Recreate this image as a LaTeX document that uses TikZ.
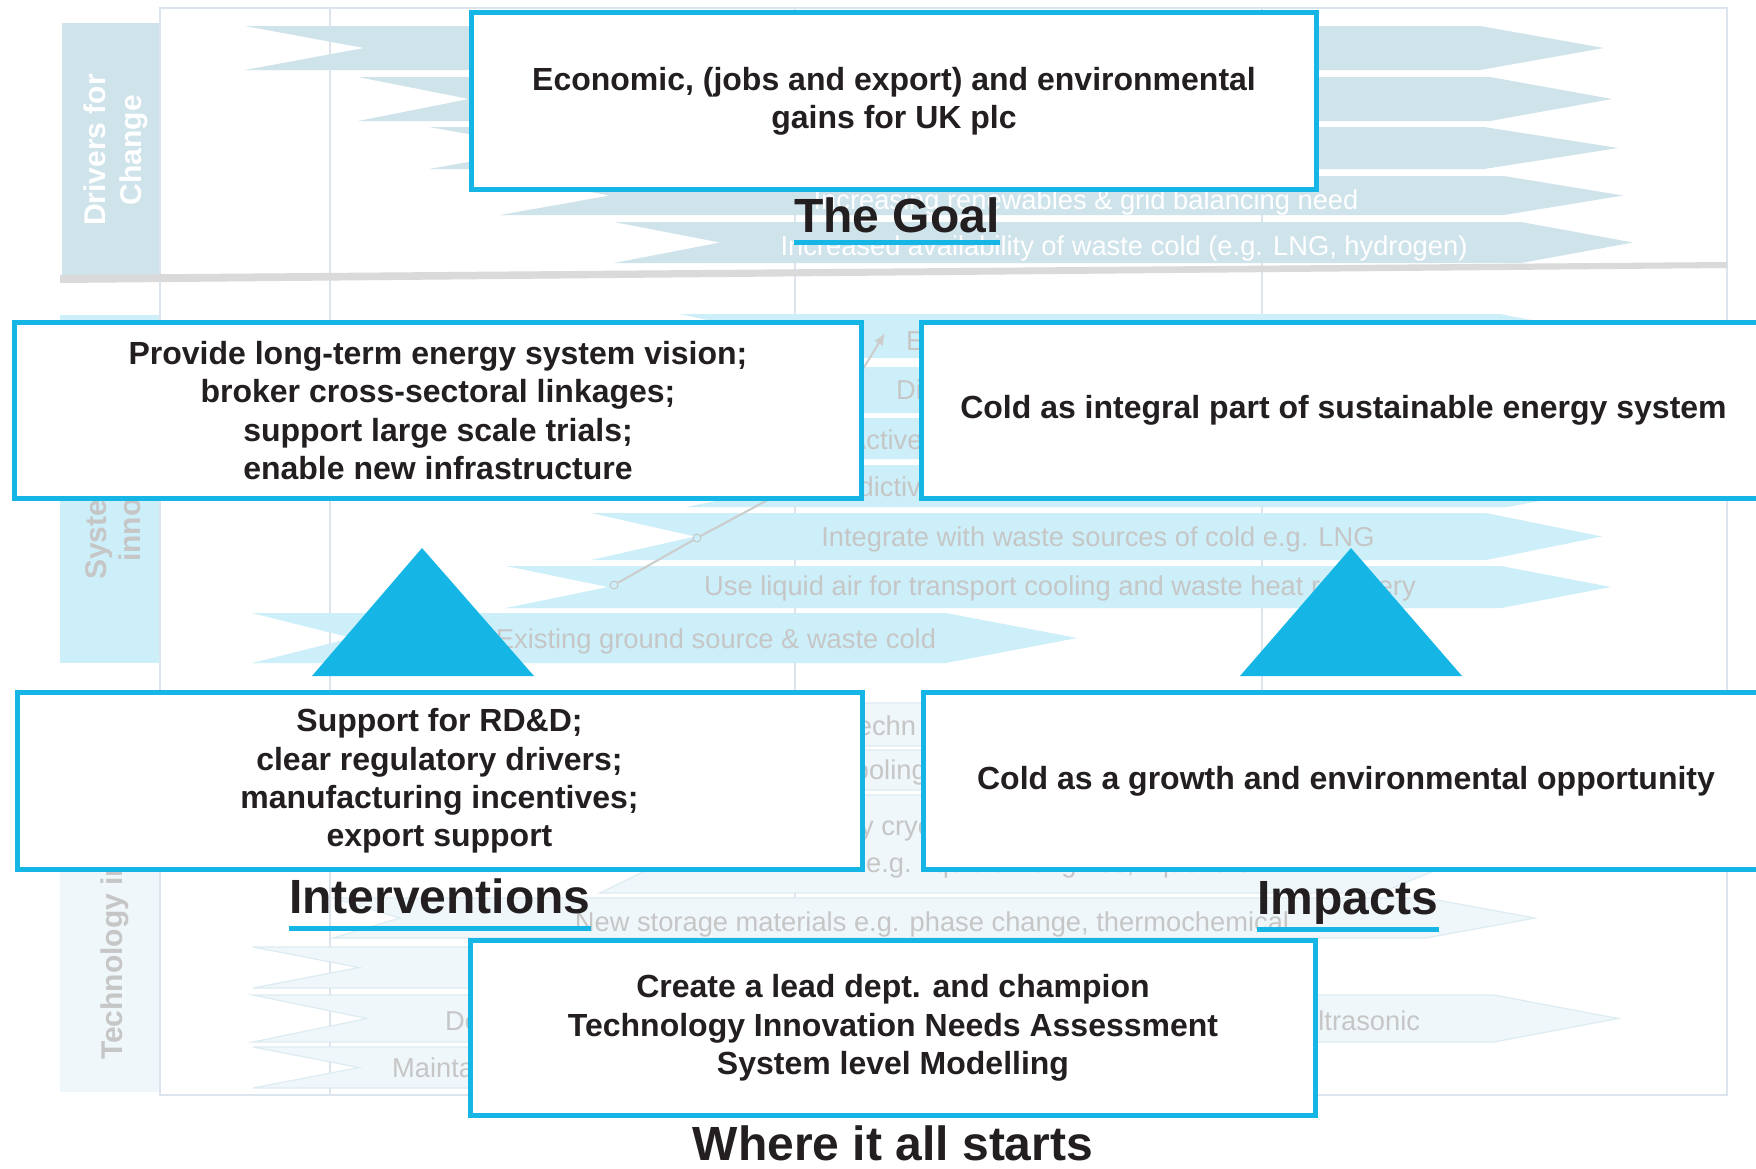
\documentclass[tikz,border=0pt]{standalone}
\usepackage{fontspec}
\setmainfont{Liberation Sans}
\usetikzlibrary{arrows.meta}
\definecolor{fgcyan}{HTML}{15B5E6}
\definecolor{txt}{HTML}{231F20}
\definecolor{drv}{HTML}{CFE3EB}
\definecolor{sysc}{HTML}{CDEFF9}
\definecolor{techc}{HTML}{EFF7FA}
\definecolor{techline}{HTML}{DDECF2}
\definecolor{frameln}{HTML}{DCE4EE}
\definecolor{fadetxt}{HTML}{C6C6C6}
\definecolor{sepg}{HTML}{DADADA}
\newcommand\rmchev[7]{\path[#7] (#1,#5) -- (#3,#5) -- (#4,{(#5+#6)/2}) -- (#3,#6) -- (#1,#6) -- (#2,{(#5+#6)/2}) -- cycle;}
\tikzset{
  drvarr/.style={fill=drv},
  sysarr/.style={fill=sysc},
  techarr/.style={fill=techc, draw=techline, line width=1.2pt},
  fgbox/.style={draw=fgcyan, line width=5pt, fill=white, inner sep=0pt, align=center,
     minimum width=845pt, minimum height=177pt, text=txt,
     font=\fontsize{32}{38.3}\selectfont\bfseries},
  ttl/.style={inner sep=0pt, text=txt, font=\fontsize{48}{54}\selectfont\bfseries},
  uline/.style={draw=fgcyan, line width=5pt},
  bgtxt/.style={inner sep=0pt, text=fadetxt, font=\fontsize{27.3}{31}\selectfont},
  bgwhite/.style={inner sep=0pt, text=white, font=\fontsize{27.3}{31}\selectfont},
  lanetxt/.style={inner sep=0pt, rotate=90, font=\fontsize{30}{36}\selectfont\bfseries},
  frm/.style={draw=frameln, line width=1.5pt},
  dotc/.style={circle, draw=gray!45, fill=sysc, line width=1pt, minimum size=8pt, inner sep=0pt}
}
\begin{document}
\begin{tikzpicture}[x=1pt,y=-1pt]
\useasboundingbox (0,0) rectangle (1756,1168);
\clip (0,0) rectangle (1756,1168);
\fill[white] (0,0) rectangle (1756,1168);

% ---------- faded roadmap background ----------
\fill[drv] (62,23) rectangle (160,277);
\fill[sysc] (60,315) rectangle (160,663);
\fill[techc] (60,700) rectangle (160,1092);

\draw[frm] (160,8) rectangle (1727,1095);
\draw[frm] (330,8) -- (330,1095);
\draw[frm] (795,8) -- (795,1095);
\draw[frm] (1262,8) -- (1262,1095);

% drivers arrows
\rmchev{245}{364}{1480}{1604}{26}{70}{drvarr}
\rmchev{358}{469}{1490}{1612}{77}{121}{drvarr}
\rmchev{429}{547}{1484}{1618}{127}{169}{drvarr}
\rmchev{500}{610}{1504}{1623}{176}{215}{drvarr}
\rmchev{614}{720}{1521}{1633}{222}{263}{drvarr}
\node[bgwhite] (d4) at (1086,202) {Increasing renewables \& grid balancing need};
\node[bgwhite] (d5) at (1124,248) {Increased availability of waste cold (e.g. LNG, hydrogen)};

\fill[sepg] (60,275) -- (1727,262) -- (1727,268) -- (60,283) -- cycle;

\node[lanetxt, text=white, align=center] (drvlab) at (115.5,150) {Drivers for\\Change};

% system innovation arrows
\rmchev{680}{780}{1500}{1615}{314}{358}{sysarr}
\rmchev{700}{800}{1500}{1615}{367}{413}{sysarr}
\rmchev{690}{790}{1500}{1615}{418}{459}{sysarr}
\rmchev{686}{790}{1507}{1620}{465}{507}{sysarr}
\rmchev{591}{695}{1486}{1602}{513}{560}{sysarr}
\rmchev{506}{608}{1501}{1611}{566}{608}{sysarr}
\rmchev{252}{352}{946}{1077}{613}{663}{sysarr}
\node[bgtxt, anchor=west] (sa) at (906,341) {E};
\node[bgtxt, anchor=west] (sb) at (896,390) {Di};
\node[bgtxt, anchor=west] (sc) at (848,440) {Active};
\node[bgtxt, anchor=west] (sd) at (816,487) {Predictive};
\node[bgtxt] (se) at (1098,539) {Integrate with waste sources of cold e.g. LNG};
\node[bgtxt] (sf) at (1060,588) {Use liquid air for transport cooling and waste heat recovery};
\node[bgtxt] (sg) at (716,641) {Existing ground source \& waste cold};

\node[dotc] (p1) at (614,585) {};
\node[dotc] (p2) at (697,538) {};
\coordinate (p3) at (790,488);
\coordinate (p4) at (885,333);
\draw[gray!40, line width=2pt, -{Latex[length=12pt,width=10pt]}] (p1) -- (p2) -- (p3) -- (p4);

\node[lanetxt, text=fadetxt, anchor=west] (sys1) at (99,580) {System};
\node[lanetxt, text=fadetxt, anchor=west] (sys2) at (130,562) {innovation};

% technology arrows
\rmchev{600}{700}{1300}{1400}{703}{746}{techarr}
\rmchev{600}{700}{1300}{1400}{750}{790}{techarr}
\rmchev{600}{700}{1380}{1500}{795}{893}{techarr}
\rmchev{333}{400}{1426}{1535}{898}{938}{techarr}
\rmchev{253}{359}{1200}{1300}{947}{988}{techarr}
\rmchev{253}{367}{1494}{1618}{995}{1042}{techarr}
\rmchev{253}{359}{1200}{1300}{1047}{1088}{techarr}
\node[bgtxt, anchor=west] (t1) at (843,726) {Techn};
\node[bgtxt, anchor=west] (t2) at (840,772) {cooling};
\node[bgtxt, anchor=west] (t3) at (860,831) {y cryo};
\node[bgtxt, anchor=west] (t4) at (866,865) {e.g. liquid air engines, liquefiers};
\node[bgtxt] (t5) at (932,924) {New storage materials e.g. phase change, thermochemical};
\node[bgtxt, anchor=west] (t6) at (445,1021) {De};
\node[bgtxt, anchor=west] (t7) at (1303,1021) {ultrasonic};
\node[bgtxt, anchor=west] (t8) at (392,1068) {Mainta};

\node[lanetxt, text=fadetxt, anchor=west] (techlab) at (114.5,1060) {Technology innovation};

% ---------- foreground ----------
\node[fgbox] (goal) at (894,101) {Economic, (jobs and export) and environmental\\gains for UK plc};
\node[fgbox, minimum width=846.5pt, minimum height=176pt] (vision) at (438,410.5) {Provide long-term energy system vision;\\broker cross-sectoral linkages;\\support large scale trials;\\enable new infrastructure};
\node[fgbox, minimum height=176pt] (sysbox) at (1343.5,410.5) {Cold as integral part of sustainable energy system};
\node[fgbox] (support) at (439.5,781) {Support for RD\&D;\\clear regulatory drivers;\\manufacturing incentives;\\export support};
\node[fgbox] (growth) at (1346,781) {Cold as a growth and environmental opportunity};
\node[fgbox, minimum height=175.5pt] (start) at (893,1028) {Create a lead dept. and champion\\Technology Innovation Needs Assessment\\System level Modelling};

\fill[fgcyan] (422,548) -- (312,676) -- (534,676) -- cycle;
\fill[fgcyan] (1351,548) -- (1240,676) -- (1462,676) -- cycle;

\node[ttl, anchor=base west] (goalt) at (794,232) {The Goal};
\draw[uline] ([yshift=-10pt]goalt.base west) -- ([yshift=-10pt]goalt.base east);
\node[ttl, anchor=base west] (intt) at (289,913) {Interventions};
\draw[uline] ([yshift=-15pt]intt.base west) -- ([yshift=-15pt]intt.base east);
\node[ttl, anchor=base west] (impt) at (1257,914) {Impacts};
\draw[uline] ([yshift=-15.5pt]impt.base west) -- ([yshift=-15.5pt]impt.base east);
\node[ttl, anchor=base] (startt) at (893,1160) {Where it all starts};
\end{tikzpicture}
\end{document}
